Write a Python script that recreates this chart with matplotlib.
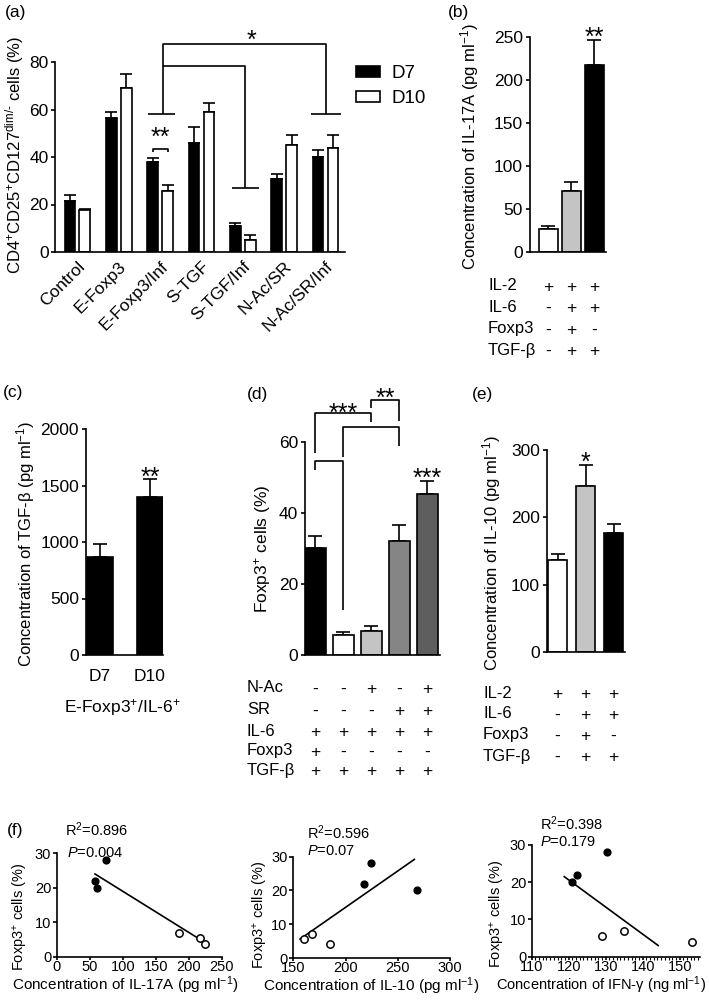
import matplotlib
matplotlib.use('Agg')
import matplotlib.pyplot as plt
import matplotlib.transforms as mtransforms
from matplotlib.ticker import MultipleLocator
import numpy as np

plt.rcParams['font.family'] = ['Liberation Sans', 'DejaVu Sans']
plt.rcParams['mathtext.fontset'] = 'custom'
plt.rcParams['mathtext.rm'] = 'Liberation Sans'
plt.rcParams['mathtext.it'] = 'Liberation Sans:italic'
plt.rcParams['axes.linewidth'] = 1.2
plt.rcParams['xtick.major.width'] = 1.2
plt.rcParams['ytick.major.width'] = 1.2

# ---- data ----
# (a) CD4+CD25+CD127dim/- cells (%)
groups_a = ['Control', 'E-Foxp3', 'E-Foxp3/Inf', 'S-TGF', 'S-TGF/Inf', 'N-Ac/SR', 'N-Ac/SR/Inf']
d7_mean = [21.5, 56.5, 38.0, 46.0, 10.8, 30.8, 40.0]
d7_err = [2.5, 2.5, 1.6, 6.7, 1.4, 2.1, 3.1]
d10_mean = [17.6, 69.1, 25.7, 59.0, 4.9, 44.9, 44.0]
d10_err = [0.7, 6.0, 2.4, 3.7, 2.1, 4.2, 5.4]

# (b) IL-17A
il17_mean = [27, 71, 218]
il17_err = [2.7, 10, 29]
il17_colors = ['white', '#c4c4c4', 'black']
cond_b_labels = ['IL-2', 'IL-6', 'Foxp3', 'TGF-β']
cond_b = [['+', '+', '+'], ['-', '+', '+'], ['-', '+', '-'], ['-', '+', '+']]

# (c) TGF-beta
days_c = ['D7', 'D10']
tgf_mean = [871, 1400]
tgf_err = [107, 160]

# (d) Foxp3+ cells
foxp3_mean = [30.2, 5.6, 6.8, 32.0, 45.3]
foxp3_err = [3.3, 0.8, 1.4, 4.5, 3.7]
foxp3_colors = ['black', 'white', '#c4c4c4', '#858585', '#5e5e5e']
cond_d_labels = ['N-Ac', 'SR', 'IL-6', 'Foxp3', 'TGF-β']
cond_d = [['-', '-', '+', '-', '+'],
          ['-', '-', '-', '+', '+'],
          ['+', '+', '+', '+', '+'],
          ['+', '-', '-', '-', '-'],
          ['+', '+', '+', '+', '+']]

# (e) IL-10
il10_mean = [137, 246, 177]
il10_err = [8, 32, 13]
il10_colors = ['white', '#c4c4c4', 'black']
cond_e_labels = ['IL-2', 'IL-6', 'Foxp3', 'TGF-β']
cond_e = [['+', '+', '+'], ['-', '+', '+'], ['-', '+', '-'], ['-', '+', '+']]

# (f) correlations with Foxp3+ cells
f1_fill_x = [58, 60.6, 74.2]
f1_fill_y = [22, 20, 28]
f1_open_x = [186, 217, 224]
f1_open_y = [7, 5.3, 3.7]
f1_fit_x = [58, 224]
f1_fit_y = [24, 4.2]

f2_fill_x = [218, 224, 268]
f2_fill_y = [22, 28, 20]
f2_open_x = [160, 167.6, 185]
f2_open_y = [5.5, 7, 4]
f2_fit_x = [156.4, 265.9]
f2_fit_y = [5.6, 29.2]

f3_fill_x = [120.8, 122.2, 130.3]
f3_fill_y = [20, 22, 28]
f3_open_x = [129.1, 134.9, 153.4]
f3_open_y = [5.5, 7, 4]
f3_fit_x = [118.8, 144.2]
f3_fit_y = [21.5, 3.0]

W, H = 709, 1002
fig = plt.figure(figsize=(W / 100, H / 100), dpi=100)
TICK = 12.5
LAB = 12


def add_ax(l, r, t, b):
    ax = fig.add_axes([l / W, 1 - b / H, (r - l) / W, (b - t) / H])
    ax.spines['top'].set_visible(False)
    ax.spines['right'].set_visible(False)
    return ax


def err_bars(ax, x, mean, err, cap=5):
    ax.errorbar(x, mean, yerr=[np.zeros(len(err)), err], fmt='none',
                ecolor='black', elinewidth=1.2, capsize=cap, capthick=1.2, zorder=1)


def stars(ax, x, y, s, fs=18):
    ax.annotate(s, (x, y), xytext=(0, -0.58 * fs), textcoords='offset points',
                ha='center', va='baseline', fontsize=fs, annotation_clip=False)


def line(ax, xs, ys):
    ax.plot(xs, ys, color='black', lw=1.2, clip_on=False, solid_capstyle='butt')


def cond_table(ax, labels, rows, y_pix, label_x, fs=12):
    trans = mtransforms.blended_transform_factory(ax.transData, fig.transFigure)
    for lab, row, yp in zip(labels, rows, y_pix):
        fig.text(label_x / W, 1 - yp / H, lab, ha='left', va='center', fontsize=fs)
        for i, s in enumerate(row):
            ax.text(i, 1 - (yp + 1.5) / H, s, transform=trans, ha='center',
                    va='center', fontsize=fs + 0.5)


# ---------------- (a) ----------------
ax = add_ax(55, 345, 62, 252)
xa = np.arange(len(groups_a))
bw = 0.26
ax.bar(xa - 0.18, d7_mean, bw, color='black', edgecolor='black', lw=1.2, zorder=2, label='D7')
ax.bar(xa + 0.18, d10_mean, bw, color='white', edgecolor='black', lw=1.2, zorder=2, label='D10')
err_bars(ax, xa - 0.18, d7_mean, d7_err, cap=4)
err_bars(ax, xa + 0.18, d10_mean, d10_err, cap=4)
ax.set_xlim(-0.54, 6.47)
ax.set_ylim(0, 80)
ax.set_yticks([0, 20, 40, 60, 80])
ax.set_xticks(xa)
ax.set_xticklabels(groups_a, rotation=45, ha='right', rotation_mode='anchor')
ax.tick_params(axis='x', length=0, pad=5, labelsize=TICK)
ax.tick_params(axis='y', length=3, pad=1.5, labelsize=TICK)
ax.set_ylabel('CD4$^{+}$CD25$^{+}$CD127$^{\\mathrm{dim/}\u2010}$ cells (%)', fontsize=LAB)
ax.yaxis.set_label_coords(-0.1, 0.51)
# brackets
line(ax, [1.82, 1.82, 2.18, 2.18], [42, 43.4, 43.4, 42])
stars(ax, 2.0, 51.3, '**')
line(ax, [1.72, 2.36], [58.3, 58.3])
line(ax, [2.06, 2.06, 6.0, 6.0], [58.3, 87.7, 87.7, 58.3])
line(ax, [5.66, 6.38], [58.3, 58.3])
line(ax, [2.06, 4.05, 4.05], [78.2, 78.2, 26.9])
line(ax, [3.73, 4.40], [26.9, 26.9])
stars(ax, 4.22, 91.9, '*')
ax.legend(loc='upper left', bbox_to_anchor=(356 / W, 1 - 65 / H), bbox_transform=fig.transFigure,
          frameon=False, fontsize=13.5, handlelength=1.3, handleheight=0.55,
          handletextpad=0.6, labelspacing=0.45, borderpad=0, borderaxespad=0)

# ---------------- (b) ----------------
ax = add_ax(530, 606, 37, 252)
xb = np.arange(3)
ax.bar(xb, il17_mean, 0.83, color=il17_colors, edgecolor='black', lw=1.2, zorder=2)
err_bars(ax, xb, il17_mean, il17_err)
ax.set_xlim(-0.8, 2.5)
ax.set_ylim(0, 250)
ax.set_yticks([0, 50, 100, 150, 200, 250])
ax.set_xticks([])
ax.tick_params(axis='y', length=3, pad=2, labelsize=TICK)
ax.set_ylabel('Concentration of IL-17A (pg ml$^{-1}$)', fontsize=LAB)
ax.yaxis.set_label_coords(-0.645, 0.488)
stars(ax, 2, 258, '**')
cond_table(ax, cond_b_labels, cond_b, [286, 307, 329, 350], 488)

# ---------------- (c) ----------------
ax = add_ax(86, 163, 429, 655)
xc = np.arange(2)
ax.bar(xc, tgf_mean, 0.52, color='black', edgecolor='black', lw=1.2, zorder=2)
err_bars(ax, xc, tgf_mean, tgf_err)
ax.set_xlim(-0.28, 1.26)
ax.set_ylim(0, 2000)
ax.set_yticks([0, 500, 1000, 1500, 2000])
ax.set_xticks(xc)
ax.set_xticklabels(days_c)
ax.tick_params(axis='x', length=0, pad=10, labelsize=TICK)
ax.tick_params(axis='y', length=3, pad=2, labelsize=TICK)
ax.set_ylabel('Concentration of TGF-β (pg ml$^{-1}$)', fontsize=LAB)
ax.yaxis.set_label_coords(-0.636, 0.493)
stars(ax, 1, 1631, '**')
fig.text(122 / W, 1 - 707 / H, 'E-Foxp3$^{+}$/IL-6$^{+}$', ha='center', va='center', fontsize=12.5)

# ---------------- (d) ----------------
ax = add_ax(305, 440, 442, 655)
xd = np.arange(5)
ax.bar(xd, foxp3_mean, 0.75, color=foxp3_colors, edgecolor='black', lw=1.2, zorder=2)
err_bars(ax, xd, foxp3_mean, foxp3_err)
ax.set_xlim(-0.375, 4.45)
ax.set_ylim(0, 60)
ax.set_yticks([0, 20, 40, 60])
ax.set_xticks([])
ax.tick_params(axis='y', length=3, pad=2, labelsize=TICK)
ax.set_ylabel('Foxp3$^{+}$ cells (%)', fontsize=LAB + 0.5)
ax.yaxis.set_label_coords(-0.237, 0.498)
line(ax, [0, 0, 2, 2], [56.8, 68.1, 68.1, 65.5])
stars(ax, 1, 69.9, '***')
line(ax, [2, 2, 3, 3], [69.5, 71.8, 71.8, 65.9])
stars(ax, 2.5, 74.2, '**')
line(ax, [1, 1, 3, 3], [55.9, 64.3, 64.3, 58.9])
line(ax, [0, 0, 1, 1], [52.1, 54.6, 54.6, 12.7])
stars(ax, 4, 51.8, '***')
cond_table(ax, cond_d_labels, cond_d, [688, 710, 731, 751, 770], 247)

# ---------------- (e) ----------------
ax = add_ax(547, 625, 450, 652)
xe = np.arange(3)
ax.bar(xe, il10_mean, 0.68, color=il10_colors, edgecolor='black', lw=1.2, zorder=2)
err_bars(ax, xe, il10_mean, il10_err)
ax.set_xlim(-0.375, 2.41)
ax.set_ylim(0, 300)
ax.set_yticks([0, 100, 200, 300])
ax.set_xticks([])
ax.tick_params(axis='y', length=3, pad=2, labelsize=TICK)
ax.set_ylabel('Concentration of IL-10 (pg ml$^{-1}$)', fontsize=LAB)
ax.yaxis.set_label_coords(-0.564, 0.488)
stars(ax, 1, 292.6, '*')
cond_table(ax, cond_e_labels, cond_e, [693, 714, 735, 756], 483)

# ---------------- (f) ----------------
f_specs = [
    (56.7, 221.7, 853.3, 956.7, (0, 250), [0, 50, 100, 150, 200, 250],
     f1_fill_x, f1_fill_y, f1_open_x, f1_open_y, f1_fit_x, f1_fit_y,
     'Concentration of IL-17A (pg ml$^{-1}$)', 'R$^{2}$=0.896', '$P$=0.004',
     (65, 830), (67, 853), 0.414, -0.162, 0.384, 11),
    (293.3, 450, 856.7, 958, (150, 300), [150, 200, 250, 300],
     f2_fill_x, f2_fill_y, f2_open_x, f2_open_y, f2_fit_x, f2_fit_y,
     'Concentration of IL-10 (pg ml$^{-1}$)', 'R$^{2}$=0.596', '$P$=0.07',
     (306.7, 833), (306.7, 850.7), 0.495, -0.149, 0.424, 11),
    (531.7, 700, 845, 956.7, (110, 155.5), [110, 120, 130, 140, 150],
     f3_fill_x, f3_fill_y, f3_open_x, f3_open_y, f3_fit_x, f3_fit_y,
     'Concentration of IFN-γ (ng ml$^{-1}$)', 'R$^{2}$=0.398', '$P$=0.179',
     (540, 824), (540, 841.7), 0.41, -0.149, 0.387, 10.5),
]
for k, (l, r, t, b, xl, xt, fx, fy, ox, oy, lx, ly, xlab, rtxt, ptxt,
        rpos, ppos, xlx, ylx, yly, xfs) in enumerate(f_specs):
    ax = add_ax(l, r, t, b)
    ax.plot(lx, ly, color='black', lw=1.2, zorder=2)
    ax.scatter(fx, fy, s=24, color='black', zorder=3, clip_on=False)
    ax.scatter(ox, oy, s=28, facecolor='white', edgecolor='black', lw=1.1, zorder=3, clip_on=False)
    ax.set_xlim(*xl)
    ax.set_ylim(0, 30)
    ax.set_xticks(xt)
    ax.set_yticks([0, 10, 20, 30])
    if k == 2:
        ax.xaxis.set_minor_locator(MultipleLocator(1))
        ax.tick_params(axis='x', which='minor', length=2, width=0.8)
    ax.tick_params(axis='x', length=2, pad=0.5, labelsize=10.5)
    ax.tick_params(axis='y', length=3, pad=1, labelsize=10.5)
    ax.set_xlabel(xlab, fontsize=xfs, labelpad=0)
    ax.xaxis.label.set_x(xlx)
    ax.set_ylabel('Foxp3$^{+}$ cells (%)', fontsize=10.5)
    ax.yaxis.set_label_coords(ylx, yly)
    fig.text(rpos[0] / W, 1 - rpos[1] / H, rtxt, ha='left', va='center', fontsize=10.5)
    fig.text(ppos[0] / W, 1 - ppos[1] / H, ptxt, ha='left', va='center', fontsize=10.5)

# panel letters
for lab, px, py in [('(a)', 5, 13), ('(b)', 448, 13), ('(c)', 3, 393),
                    ('(d)', 247, 395), ('(e)', 472, 395), ('(f)', 7, 831)]:
    fig.text(px / W, 1 - py / H, lab, ha='left', va='center', fontsize=12.5)

fig.savefig('out.png', dpi=100)
